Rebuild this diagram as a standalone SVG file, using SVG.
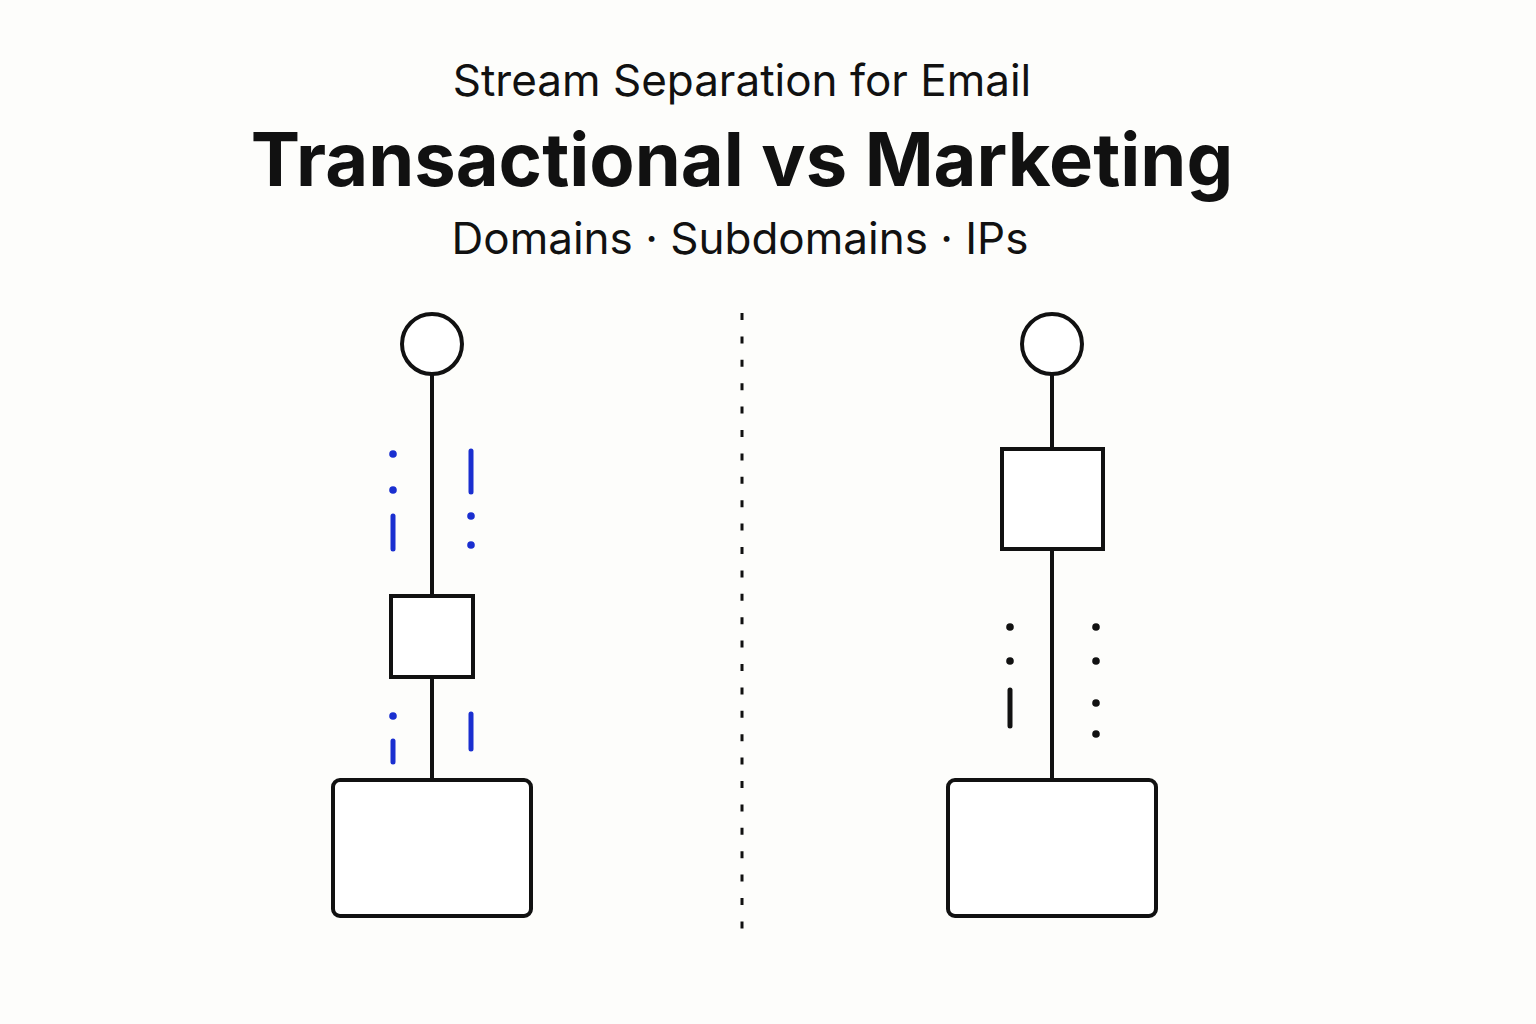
<svg xmlns="http://www.w3.org/2000/svg" width="1536" height="1024" viewBox="0 0 1536 1024">
<style>
.t{font-family:Inter,"Noto Sans","Liberation Sans",sans-serif;fill:#111;text-anchor:middle}
.n{fill:#fff;stroke:#111;stroke-width:4}
.c{stroke:#111;stroke-width:4;fill:none}
.bl{stroke:#1a2fd0;stroke-width:5;stroke-linecap:round}
.bk{stroke:#111;stroke-width:5;stroke-linecap:round}
.bd{fill:#1a2fd0}
.kd{fill:#111}
</style>
<rect width="1536" height="1024" fill="#fdfdfb"/>
<text class="t" x="742" y="96" font-size="44">Stream Separation for Email</text>
<text class="t" x="742" y="186" font-size="74" font-weight="700">Transactional vs Marketing</text>
<text class="t" x="740" y="254" font-size="44">Domains · Subdomains · IPs</text>
<line x1="742" y1="313" x2="742" y2="930" stroke="#111" stroke-width="3" stroke-dasharray="7 16.4"/>
<g id="connectors">
<line class="c" x1="432" y1="374" x2="432" y2="596"/>
<line class="c" x1="432" y1="677" x2="432" y2="780"/>
<line class="c" x1="1052" y1="374" x2="1052" y2="449"/>
<line class="c" x1="1052" y1="549" x2="1052" y2="780"/>
</g>
<g id="left-circle"><circle class="n" cx="432" cy="344" r="30"/></g>
<g id="left-square"><rect class="n" x="391" y="596" width="82" height="81"/></g>
<g id="left-box"><rect class="n" x="333" y="780" width="198" height="136" rx="7"/></g>
<g id="right-circle"><circle class="n" cx="1052" cy="344" r="30"/></g>
<g id="right-square"><rect class="n" x="1002" y="449" width="101" height="100"/></g>
<g id="right-box"><rect class="n" x="948" y="780" width="208" height="136" rx="7"/></g>
<g id="left-marks">
<circle class="bd" cx="393" cy="454" r="3.8"/>
<circle class="bd" cx="393" cy="490" r="3.8"/>
<line class="bl" x1="393" y1="516" x2="393" y2="549"/>
<line class="bl" x1="471" y1="451" x2="471" y2="492"/>
<circle class="bd" cx="471" cy="516" r="3.8"/>
<circle class="bd" cx="471" cy="545" r="3.8"/>
<circle class="bd" cx="393" cy="716" r="3.8"/>
<line class="bl" x1="393" y1="741" x2="393" y2="762"/>
<line class="bl" x1="471" y1="714" x2="471" y2="749"/>
</g>
<g id="right-marks">
<circle class="kd" cx="1010" cy="627" r="3.8"/>
<circle class="kd" cx="1010" cy="661" r="3.8"/>
<line class="bk" x1="1010" y1="690" x2="1010" y2="726"/>
<circle class="kd" cx="1096" cy="627" r="3.8"/>
<circle class="kd" cx="1096" cy="661" r="3.8"/>
<circle class="kd" cx="1096" cy="703" r="3.8"/>
<circle class="kd" cx="1096" cy="734" r="3.8"/>
</g>
</svg>
